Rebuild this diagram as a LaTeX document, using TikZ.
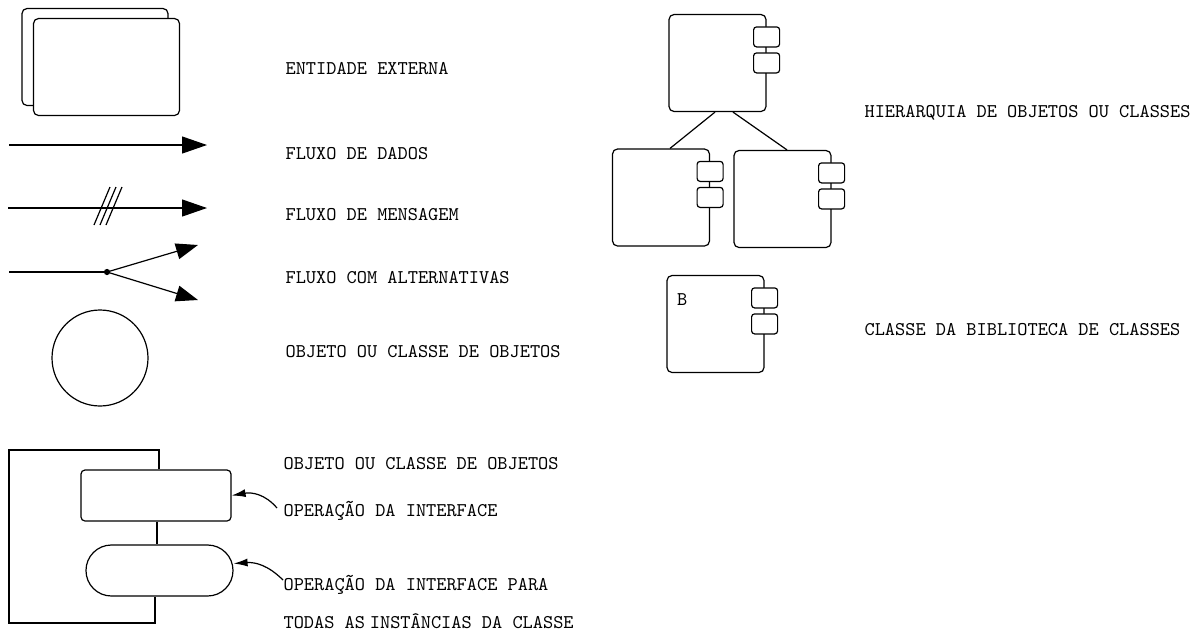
\documentclass[tikz,border=0pt]{standalone}
\usepackage{fontspec}
\usetikzlibrary{arrows.meta,positioning}
\begin{document}
\begin{tikzpicture}[x=0.5pt, y=-0.5pt, line width=0.6pt, font=\fontsize{9.7}{12}\selectfont\ttfamily]
        \tikzstyle{legend}=[anchor=base west, inner sep=0pt];
        \tikzstyle{entity}=[draw, rectangle, rounded corners=2.5pt, fill=white, minimum width=73pt, minimum height=48.5pt];
        \tikzstyle{classbox}=[draw, rectangle, rounded corners=2.5pt, minimum width=48.5pt, minimum height=48.5pt];
        \tikzstyle{opbox}=[draw, rectangle, rounded corners=1.5pt, fill=white, inner sep=0pt, minimum width=13pt, minimum height=10pt];
        \tikzstyle{bigtip}=[-{Triangle[length=12.5pt,width=8.5pt]}];
        \tikzstyle{smalltip}=[-{Latex[length=7pt,width=4pt]}];

        \useasboundingbox (0,0) rectangle (1199,633);

        \node[entity] (extback) at (95,57) {};
        \node[entity, xshift=5.75pt, yshift=-5pt] (extfront) at (extback) {};
        \node[legend] (extlabel) at (285,74) {ENTIDADE EXTERNA};

        \coordinate (dadosstart) at (9,145);
        \coordinate (dadosend) at (207,145);
        \draw[bigtip] (dadosstart) -- (dadosend);
        \node[legend] (dadoslabel) at (285,159) {FLUXO DE DADOS};

        \coordinate (msgstart) at (8,208);
        \coordinate (msgend) at (207,208);
        \draw[bigtip] (msgstart) -- (msgend);
        \foreach \dx in {0,6,12}
            \draw (94+\dx,225) -- (110+\dx,187);
        \node[legend] (msglabel) at (285,220) {FLUXO DE MENSAGEM};

        \coordinate (altstart) at (9,272);
        \node[circle, fill, inner sep=1.1pt] (altsplit) at (107,272) {};
        \coordinate (altup) at (198,245);
        \coordinate (altdown) at (198,300);
        \draw (altstart) -- (altsplit.center);
        \draw[-{Triangle[length=11pt,width=8pt]}] (altsplit.center) -- (altup);
        \draw[-{Triangle[length=11pt,width=8pt]}] (altsplit.center) -- (altdown);
        \node[legend] (altlabel) at (285,283) {FLUXO COM ALTERNATIVAS};

        \node[draw, circle, inner sep=0pt, minimum size=48pt] (objcircle) at (100,358) {};
        \node[legend] (objlabel) at (285,357) {OBJETO OU CLASSE DE OBJETOS};

        \node[draw, rectangle, rounded corners=2pt, minimum width=75pt, minimum height=25.5pt] (iface) at (156,495.5) {};
        \node[draw, rectangle, rounded corners=12.7pt, minimum width=73.5pt, minimum height=25.5pt] (classop) at (159.5,570.5) {};
        \draw ([xshift=0.5pt]iface.south) -- ([xshift=0.5pt]iface.south |- classop.north);
        \draw[line width=1.1pt] ([xshift=1.5pt]iface.north) |- (9,450) -- (9,623) -| ([xshift=-2.25pt]classop.south);

        \node[legend] (ifaceobj) at (283,469) {OBJETO OU CLASSE DE OBJETOS};
        \node[legend] (ifacelabel) at (283,516) {OPERAÇÃO DA INTERFACE};
        \node[legend] (classoplabel) at (283,590) {OPERAÇÃO DA INTERFACE PARA};
        \node[legend] (classopmore) at (283,628) {TODAS AS\hspace{0.25em}INSTÂNCIAS DA CLASSE};
        \coordinate (ifacetail) at (277,508);
        \coordinate (classoptail) at (283,580);
        \draw[smalltip] (ifacetail) .. controls (265,494) and (252,492) .. (iface.east);
        \draw[smalltip] (classoptail) .. controls (268,565) and (255,562) .. ([yshift=3.5pt]classop.east);

        \node[classbox] (super) at (717.5,63) {};
        \node[classbox] (subleft) at (661,197.5) {};
        \node[classbox] (subright) at (782.5,199) {};
        \node[classbox] (libclass) at (715.5,324) {};
        \foreach \c in {super, subleft, subright, libclass} {
            \node[opbox] (\c-op1) at ([yshift=-11.5pt]\c.north east) {};
            \node[opbox] (\c-op2) at ([yshift=-24.5pt]\c.north east) {};
        }
        \draw ([xshift=-1.25pt]super.south) -- ([xshift=4.5pt]subleft.north);
        \draw ([xshift=7.75pt]super.south) -- ([xshift=2.25pt]subright.north);
        \node[legend] (libname) at ([xshift=5pt,yshift=-15.5pt]libclass.north west) {B};

        \node[legend] (superlabel) at (864,117) {HIERARQUIA DE OBJETOS OU CLASSES};
        \node[legend] (liblabel) at (864,335) {CLASSE DA BIBLIOTECA DE CLASSES};
    \end{tikzpicture}
\end{document}
